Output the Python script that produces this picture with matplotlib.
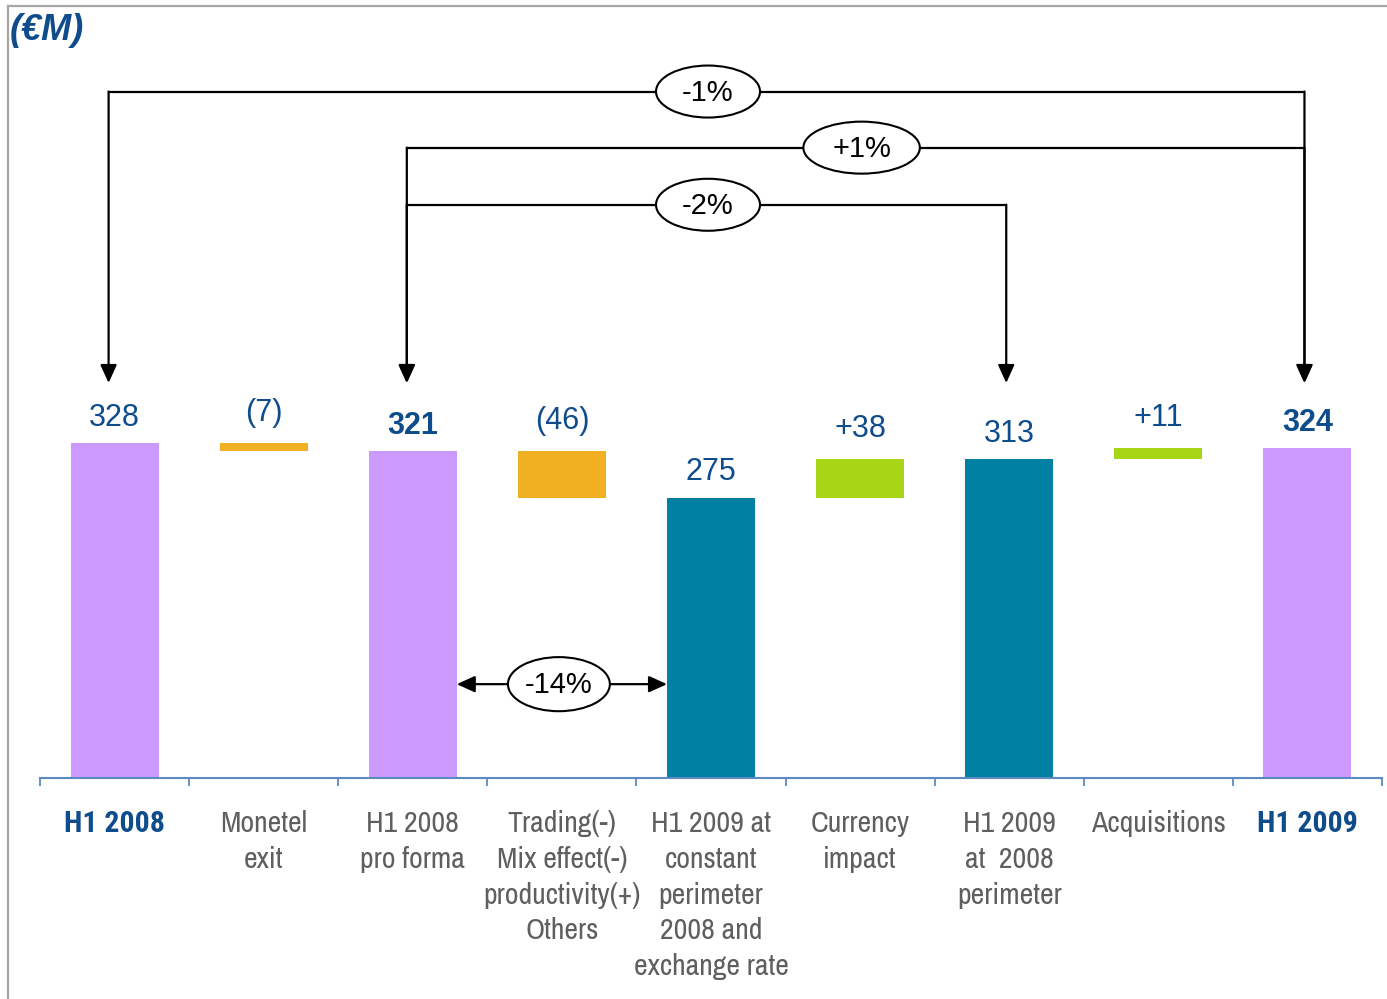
import matplotlib
matplotlib.use("Agg")
import matplotlib.pyplot as plt
from matplotlib.patches import Ellipse
from matplotlib import font_manager

# ---- data -------------------------------------------------------------
categories = [
    "H1 2008",
    "Monetel\nexit",
    "H1 2008\npro forma",
    "Trading(-)\nMix effect(-)\nproductivity(+)\nOthers",
    "H1 2009 at\nconstant\nperimeter\n2008 and\nexchange rate",
    "Currency\nimpact",
    "H1 2009\nat  2008\nperimeter",
    "Acquisitions",
    "H1 2009",
]
# kind: 't' = total bar, 'd' = change from previous total
kinds = ["t", "d", "t", "d", "t", "d", "t", "d", "t"]
values = [328, -7, 321, -46, 275, 38, 313, 11, 324]
value_labels = ["328", "(7)", "321", "(46)", "275", "+38", "313", "+11", "324"]
bold_values = [False, False, True, False, False, False, False, False, True]
bold_categories = [True, False, False, False, False, False, False, False, True]

# comparison brackets: (from index, to index, label)
brackets = [(0, 8, "-1%"), (2, 8, "+1%"), (2, 6, "-2%")]
bracket_levels = [673, 618, 562]
bracket_label_x = [3.98, 5.01, 3.98]
side_change = (2, 4, "-14%")
side_change_level = 92

# ---- styling ----------------------------------------------------------
PURPLE = "#CC99FF"
TEAL = "#0080A3"
ORANGE = "#F0B021"
GREEN = "#A8D515"
BLUE_TXT = "#0E4C8B"
GRAY_TXT = "#5F5F5F"
AXIS_BLUE = "#5A8AC0"

names = {f.name for f in font_manager.fontManager.ttflist}


def pick(*cands):
    for c in cands:
        if c in names:
            return c
    return "DejaVu Sans"


SANS = pick("Liberation Sans", "Arimo")
NARROW = pick("Archivo Narrow", "Roboto Condensed", "Liberation Sans")
NARROW_BOLD = pick("Roboto Condensed", "Archivo Narrow", "Liberation Sans")

W, H = 1387, 999
fig = plt.figure(figsize=(W / 100, H / 100), dpi=100)
fig.patch.set_facecolor("white")

# outer gray frame (left and top edges)
fig.add_artist(plt.Line2D([8 / W, 8 / W], [0, 1 - 6 / H], color="#A6A6A6", lw=1.6))
fig.add_artist(plt.Line2D([8 / W, 1], [1 - 6 / H, 1 - 6 / H], color="#A6A6A6", lw=1.6))

fig.text(10 / W, 1 - 31 / H, "(€M)", fontsize=26, fontweight="bold", fontstyle="italic",
         color=BLUE_TXT, family=SANS, va="center", ha="left")

ax_left, ax_right, ax_bottom, ax_top = 40, 1382, 778, 6
ax = fig.add_axes([ax_left / W, (H - ax_bottom) / H, (ax_right - ax_left) / W,
                   (ax_bottom - ax_top) / H])
px_per_unit = 1.02
ax.set_xlim(-0.5, len(categories) - 0.5)
ax.set_ylim(0, (ax_bottom - ax_top) / px_per_unit)

# ---- waterfall bars ----------------------------------------------------
bar_w = 0.59
running = 0
tops = []
for i, (k, v) in enumerate(zip(kinds, values)):
    if k == "t":
        color = PURPLE if i in (0, 2, 8) else TEAL
        ax.bar(i, v, width=bar_w, bottom=0, color=color, zorder=2)
        running = v
        tops.append(v)
    else:
        start = running
        end = running + v
        color = ORANGE if v < 0 else GREEN
        ax.bar(i, abs(v), width=bar_w, bottom=min(start, end), color=color, zorder=2)
        running = end
        tops.append(max(start, end))

for i, (lab, top) in enumerate(zip(value_labels, tops)):
    off = 25 if kinds[i] == "t" else 30
    ax.annotate(lab, (i, top), xytext=(0, off * 0.72), textcoords="offset points",
                ha="center", va="center", fontsize=22,
                fontweight="bold" if bold_values[i] else "normal",
                color=BLUE_TXT, family=SANS, zorder=4)

# ---- comparison brackets -------------------------------------------------
arrow_kw = dict(arrowstyle="-|>,head_length=1.1,head_width=0.5", color="black", lw=1.6,
                shrinkA=0, shrinkB=0)
tip_level = (ax_bottom - 383) / px_per_unit
ell_w = 104 / ((ax_right - ax_left) / len(categories))
ell_h = 52 / px_per_unit
for (a, b, lab), lvl, lx in zip(brackets, bracket_levels, bracket_label_x):
    xa, xb = a - 0.04, b - 0.02
    ax.plot([xa, xb], [lvl, lvl], color="black", lw=1.6, zorder=3,
            solid_capstyle="projecting")
    for x in (xa, xb):
        ax.annotate("", xy=(x, tip_level), xytext=(x, lvl), arrowprops=arrow_kw, zorder=3)
    w = ell_w * (1.12 if lab == "+1%" else 1.0)
    ax.add_patch(Ellipse((lx, lvl), w, ell_h, facecolor="white", edgecolor="black",
                         lw=1.5, zorder=5))
    ax.text(lx, lvl - 1, lab, ha="center", va="center", fontsize=21, family=SANS,
            color="black", zorder=6)

a, b, lab = side_change
xa = a + bar_w / 2
xb = b - bar_w / 2
xm = (xa + xb) / 2 - 0.02
ax.annotate("", xy=(xa, side_change_level), xytext=(xm, side_change_level),
            arrowprops=arrow_kw, zorder=3)
ax.annotate("", xy=(xb, side_change_level), xytext=(xm, side_change_level),
            arrowprops=arrow_kw, zorder=3)
ax.add_patch(Ellipse((xm, side_change_level), ell_w * 0.98, ell_h * 1.04,
                     facecolor="white", edgecolor="black", lw=1.5, zorder=5))
ax.text(xm, side_change_level - 1, lab, ha="center", va="center", fontsize=21,
        family=SANS, color="black", zorder=6)

# ---- axes cosmetics ----------------------------------------------------------
for s in ("left", "right", "top"):
    ax.spines[s].set_visible(False)
ax.spines["bottom"].set_color(AXIS_BLUE)
ax.spines["bottom"].set_linewidth(1.5)
ax.set_yticks([])
ax.set_xticks([i - 0.5 for i in range(len(categories) + 1)])
ax.set_xticklabels([])
ax.tick_params(axis="x", which="major", length=6, width=1.3, color=AXIS_BLUE, direction="out")
ax.set_xticks(range(len(categories)), minor=True)
ax.set_xticklabels(categories, minor=True)
ax.tick_params(axis="x", which="minor", length=0, pad=23)
for i, t in enumerate(ax.get_xticklabels(minor=True)):
    t.set_fontsize(21.5)
    t.set_linespacing(1.4)
    t.set_va("top")
    if bold_categories[i]:
        t.set_family(NARROW_BOLD)
        t.set_fontweight("bold")
        t.set_color(BLUE_TXT)
    else:
        t.set_family(NARROW)
        t.set_color(GRAY_TXT)
ax.set_facecolor("none")

fig.savefig("out.png", dpi=100, facecolor="white")
